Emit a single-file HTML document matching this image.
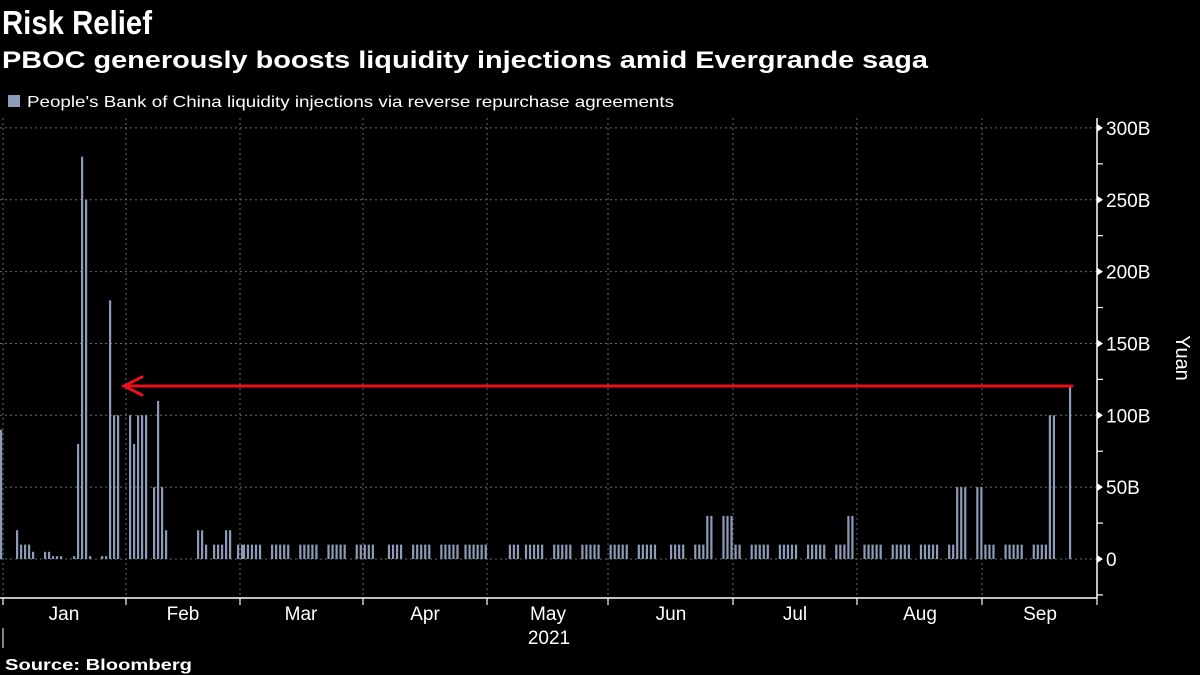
<!DOCTYPE html>
<html><head><meta charset="utf-8"><style>
html,body{margin:0;padding:0;background:#000;width:1200px;height:675px;overflow:hidden}
svg{display:block}
text{font-family:"Liberation Sans",sans-serif;fill:#fff}
</style></head><body>
<svg id="s" width="1200" height="675" viewBox="0 0 1200 675">
<rect width="1200" height="675" fill="#000"/>
<text x="2" y="34" font-size="33" font-weight="bold" textLength="150" lengthAdjust="spacingAndGlyphs">Risk Relief</text>
<text x="2" y="68" font-size="24" font-weight="bold" textLength="926" lengthAdjust="spacingAndGlyphs">PBOC generously boosts liquidity injections amid Evergrande saga</text>
<rect x="8" y="95" width="12" height="12" fill="#8c9cb8"/>
<text x="27" y="107" font-size="16" textLength="647" lengthAdjust="spacingAndGlyphs">People's Bank of China liquidity injections via reverse repurchase agreements</text>
<g id="grid" stroke="#6a6a6a" stroke-width="1" stroke-dasharray="2,3"></g>
<g id="bars" fill="#8c9cb8"></g>
<g stroke="#fff" stroke-width="1.5" fill="none">
<line x1="0" y1="598" x2="1097" y2="598"/>
<line x1="1097" y1="118" x2="1097" y2="598"/>
</g>
<g id="ticks" stroke="#fff" stroke-width="1.2"></g>
<g id="labels" font-size="19"></g>
<text transform="translate(1176,358) rotate(90)" text-anchor="middle" font-size="20">Yuan</text>
<line x1="3" y1="628" x2="3" y2="648" stroke="#fff" stroke-width="1"/>
<text x="549" y="644" text-anchor="middle" font-size="19">2021</text>
<text x="5" y="670" font-size="16" font-weight="bold" textLength="187" lengthAdjust="spacingAndGlyphs">Source: Bloomberg</text>
<g stroke="#e8101a" stroke-width="3" fill="none" stroke-linecap="round">
<line x1="124" y1="386" x2="1072" y2="386"/>
<polyline points="142,377 124,386 142,395"/>
</g>
</svg>
<script>
var NS="http://www.w3.org/2000/svg";
function el(p,t,a,txt){var e=document.createElementNS(NS,t);for(var k in a)e.setAttribute(k,a[k]);if(txt)e.textContent=txt;document.getElementById(p).appendChild(e);}
var y0=559,k=1.437;
// grid
[3,126,240,363,487,608,733,857,982].forEach(function(x){el("grid","line",{x1:x,y1:118,x2:x,y2:598});el("ticks","line",{x1:x,y1:598,x2:x,y2:605});});
for(var v=0;v<=300;v+=50){var y=y0-v*k;el("grid","line",{x1:0,y1:y,x2:1097,y2:y});el("ticks","polygon",{points:"1097,"+(y-4)+" 1103,"+y+" 1097,"+(y+4),fill:"#fff",stroke:"none"});el("labels","text",{x:1106,y:y+7},v==0?"0":v+"B");}
for(var v=-25;v<=325;v+=50){var y=y0-v*k;if(y>=118)el("ticks","line",{x1:1097,y1:y,x2:1103,y2:y});}
el("ticks","line",{x1:1097,y1:598,x2:1097,y2:605});
var months=["Jan","Feb","Mar","Apr","May","Jun","Jul","Aug","Sep"],mx=[64,183,301,425,548,671,795,920,1040];
months.forEach(function(m,i){el("labels","text",{x:mx[i],y:620,"text-anchor":"middle"},m);});
// bars
function bar(x,v){el("bars","rect",{x:x-1,y:y0-v*k,width:2.2,height:v*k});}
var hand=[[1,90],[17,20],[21,10],[25,10],[29,10],[33,5],[45,5],[49,5],[53,2],[57,2],[61,2],[74,2],[78,80],[82,280],[86,250],[90,2],[102,2],[106,2],[110,180],[114,100],[118,100],[130,100],[134,80],[138,100],[142,100],[146,100],[154,50],[158,110],[162,50],[166,20],[198,20],[202,20],[206,10],[214,10],[218,10],[222,10],[226,20],[230,20],[238,10],[242,10]];
hand.forEach(function(h){bar(h[0],h[1]);});
var hol={95:1,123:1,124:1,125:1,165:1,263:1,264:1};
var work={115:1,128:1,261:1};
var sp={175:30,176:30,179:30,180:30,181:30,210:30,211:30,237:50,238:50,239:50,242:50,243:50,260:100,261:100,265:120};
for(var d=60;d<=265;d++){var dow=(4+d)%7;var wd=dow>=1&&dow<=5;if((!wd&&!work[d])||hol[d])continue;if(d>261&&d<265)continue;var v=sp[d]||10;bar(2+d*4.03,v);}
</script>
</body></html>
